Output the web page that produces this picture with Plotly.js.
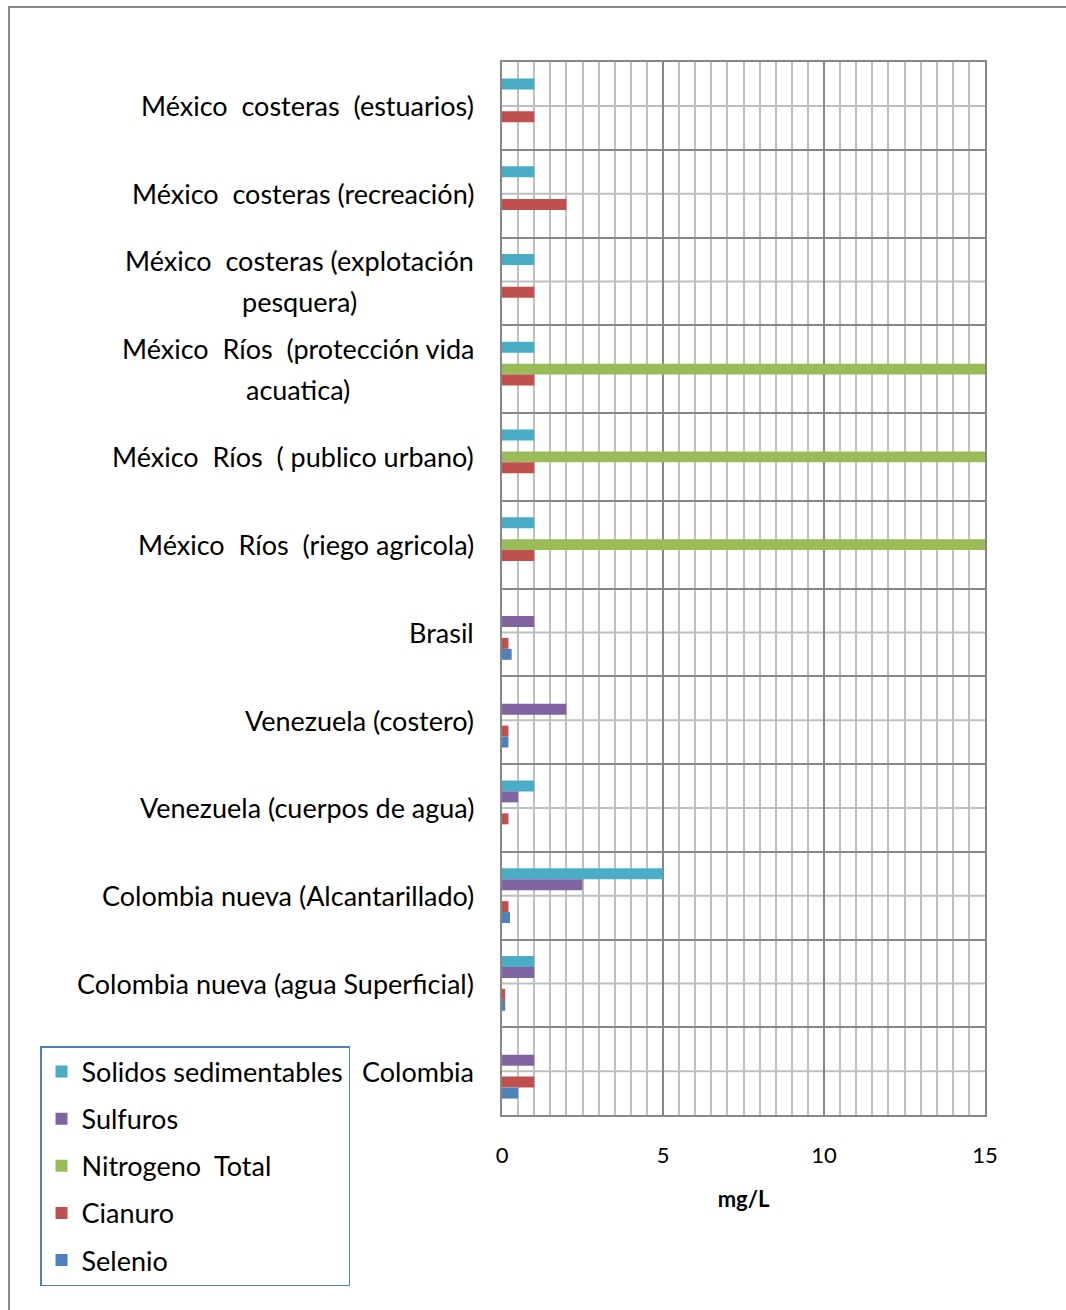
<!DOCTYPE html>
<html>
<head>
<meta charset="utf-8">
<script src="https://cdn.plot.ly/plotly-3.0.1.min.js"></script>
<style>
  html, body { margin: 0; padding: 0; background: #fff; }
  #wrap { position: relative; width: 1066px; height: 1310px; overflow: hidden; }
  #frame { position: absolute; left: 8px; top: 6px; width: 1200px; height: 1400px;
           border-left: 2px solid #8a8a8a; border-top: 2px solid #8a8a8a; box-sizing: border-box; }
  #chart { position: absolute; left: 0; top: 0; width: 1066px; height: 1310px; }
</style>
</head>
<body>
<div id="wrap">
  <div id="frame"></div>
  <div id="chart"></div>
</div>
<script>
const categories = [
  "México costeras (estuarios)",
  "México costeras (recreación)",
  "México costeras (explotación pesquera)",
  "México Ríos (protección vida acuatica)",
  "México Ríos (publico urbano)",
  "México Ríos (riego agricola)",
  "Brasil",
  "Venezuela (costero)",
  "Venezuela (cuerpos de agua)",
  "Colombia nueva (Alcantarillado)",
  "Colombia nueva (agua Superficial)",
  "Colombia"
];
const labels = [
  "México&nbsp; costeras&nbsp; (estuarios)",
  "México&nbsp; costeras (recreación)",
  "México&nbsp; costeras (explotación<br>pesquera)",
  "México&nbsp; Ríos&nbsp; (protección vida<br>acuatica)",
  "México&nbsp; Ríos&nbsp; ( publico urbano)",
  "México&nbsp; Ríos&nbsp; (riego agricola)",
  "Brasil",
  "Venezuela (costero)",
  "Venezuela (cuerpos de agua)",
  "Colombia nueva (Alcantarillado)",
  "Colombia nueva (agua Superficial)",
  "Colombia"
];
const solidos   = [1, 1, 1, 1, 1, 1, null, null, 1, 5, 1, null];
const sulfuros  = [null, null, null, null, null, null, 1, 2, 0.5, 2.5, 1, 1];
const nitrogeno = [null, null, null, 15, 15.1, 15.1, null, null, null, null, null, null];
const cianuro   = [1, 2, 1, 1, 1, 1, 0.2, 0.2, 0.2, 0.2, 0.1, 1];
const selenio   = [null, null, null, null, null, null, 0.3, 0.2, null, 0.25, 0.1, 0.5];
const xTicks = [0, 5, 10, 15];

const seriesNames = ["Solidos sedimentables", "Sulfuros", "Nitrogeno  Total", "Cianuro", "Selenio"];
const seriesData = [solidos, sulfuros, nitrogeno, cianuro, selenio];
const seriesColors = ["#4BACC6", "#8064A2", "#9BBB59", "#C0504D", "#4F81BD"];

const FONT = "Lato, 'Open Sans', sans-serif";
const LINE_GAP = 41;

const traces = seriesNames.map((n, i) => ({
  type: "bar",
  orientation: "h",
  name: n,
  x: seriesData[i],
  y: categories,
  marker: { color: seriesColors[i], line: { width: 0 } },
  legendgroup: "g" + i,
  hoverinfo: "x+name"
}));

// category labels: one annotation per text line so the line spacing matches
const annotations = [];
categories.forEach((c, i) => {
  const lines = labels[i].split("<br>");
  if (lines.length === 1) {
    annotations.push({
      xref: "paper", yref: "y", x: -0.054, y: c,
      xanchor: "right", yanchor: "middle", align: "center",
      text: lines[0], showarrow: false,
      font: { family: FONT, size: 27, color: "#000" }
    });
  } else {
    // group block right-aligned, lines centered on the first line's center
    annotations.push({
      xref: "paper", yref: "y", x: -0.054, y: c,
      xanchor: "right", yanchor: "middle", align: "center",
      text: lines[0], showarrow: false, yshift: LINE_GAP / 2,
      font: { family: FONT, size: 27, color: "#000" }
    });
    annotations.push({
      xref: "paper", yref: "y", x: -0.054, y: c,
      xanchor: "right", yanchor: "middle", align: "center",
      text: lines[0].replace(/&nbsp;/g, " ").replace(/./g, "\u2002").slice(0, 0) + lines[1],
      showarrow: false, yshift: -LINE_GAP / 2,
      font: { family: FONT, size: 27, color: "#000" },
      _center: true
    });
  }
});

const shapes = categories.map(c => ({
  type: "line", xref: "paper", yref: "y",
  x0: 0, x1: 1, y0: c, y1: c,
  line: { color: "#BFBFBF", width: 2 },
  layer: "below"
}));

const layout = {
  width: 1066, height: 1310,
  margin: { l: 502, r: 81, t: 62, b: 195 },
  paper_bgcolor: "rgba(0,0,0,0)",
  plot_bgcolor: "#fff",
  barmode: "group",
  bargap: 0.375,
  bargroupgap: 0,
  showlegend: true,
  legend: {
    x: -0.9565, y: 0.0655, xanchor: "left", yanchor: "top",
    traceorder: "grouped",
    tracegroupgap: 9,
    bgcolor: "#fff",
    bordercolor: "#4F81BD", borderwidth: 1.5,
    font: { family: FONT, size: 27, color: "#000" },
    itemwidth: 30
  },
  xaxis: {
    range: [0, 15],
    tickvals: xTicks,
    ticktext: xTicks.map(String),
    showgrid: true, gridcolor: "#878787", gridwidth: 2,
    minor: { dtick: 0.5, showgrid: true, gridcolor: "#BFBFBF", gridwidth: 2 },
    zeroline: false,
    showline: true, linecolor: "#878787", linewidth: 2, mirror: true,
    ticks: "", ticklen: 0,
    ticklabelstandoff: 20,
    tickfont: { family: FONT, size: 22, color: "#000" },
    title: { text: "<b>mg/L</b>", font: { family: FONT, size: 22, color: "#000" }, standoff: 24 },
    fixedrange: true
  },
  yaxis: {
    type: "category",
    categoryorder: "array",
    categoryarray: categories,
    autorange: "reversed",
    showticklabels: false,
    tickson: "boundaries",
    showgrid: true, gridcolor: "#878787", gridwidth: 2,
    showline: true, linecolor: "#878787", linewidth: 2, mirror: true,
    ticks: "",
    zeroline: false,
    fixedrange: true
  },
  annotations: annotations.map(a => { const b = Object.assign({}, a); delete b._center; return b; }),
  shapes: shapes
};

Plotly.newPlot("chart", traces, layout, { displayModeBar: false, staticPlot: true }).then(gd => {
  // center the second line of two-line labels under its first line
  const anns = gd._fullLayout.annotations;
  const updates = {};
  annotations.forEach((a, k) => {
    if (a._center) {
      const first = gd.querySelectorAll(".annotation")[k - 1];
      const second = gd.querySelectorAll(".annotation")[k];
      if (first && second) {
        const w1 = first.getBoundingClientRect().width;
        const w2 = second.getBoundingClientRect().width;
        updates["annotations[" + k + "].xshift"] = -(w1 - w2) / 2;
      }
    }
  });
  if (Object.keys(updates).length) Plotly.relayout(gd, updates);
});
</script>
</body>
</html>
